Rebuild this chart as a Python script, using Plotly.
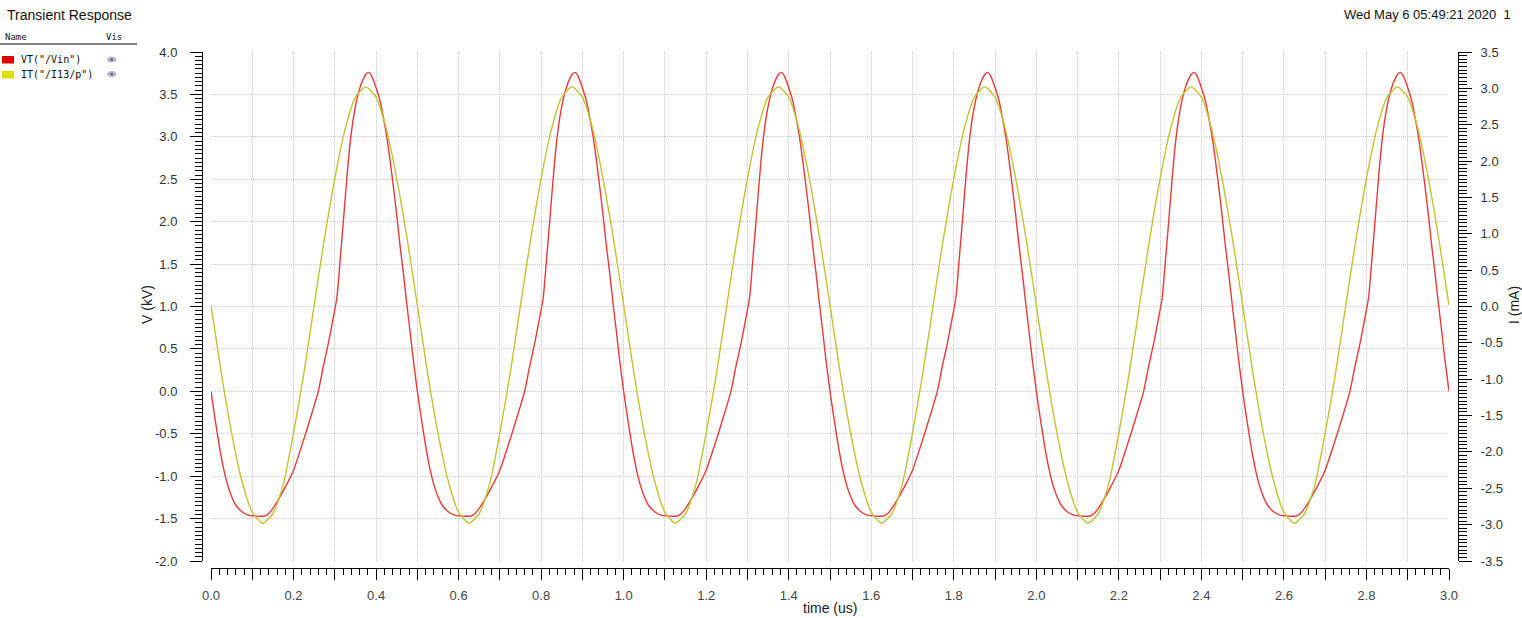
import numpy as np
import plotly.graph_objects as go

# ---------------- data ----------------
period_us = 0.5
n_cycles = 6

# VT("/Vin") in kV, one period (time in us)
red_cycle_t = [0.000, 0.010, 0.020, 0.030, 0.040, 0.050, 0.060, 0.075, 0.090, 0.130,
               0.140, 0.150, 0.163, 0.180, 0.200, 0.220, 0.240, 0.260, 0.272, 0.285,
               0.296, 0.305, 0.313, 0.321, 0.329, 0.337, 0.345, 0.353, 0.361, 0.369,
               0.376, 0.382, 0.388, 0.395, 0.402, 0.410, 0.418, 0.426, 0.434, 0.442,
               0.450, 0.458, 0.466, 0.474, 0.482, 0.490]
red_cycle_v = [0.00, -0.33, -0.64, -0.90, -1.10, -1.24, -1.34, -1.42, -1.46, -1.47,
               -1.44, -1.38, -1.28, -1.13, -0.93, -0.64, -0.33, 0.00, 0.29, 0.58,
               0.86, 1.10, 1.55, 2.02, 2.50, 2.92, 3.22, 3.43, 3.58, 3.68,
               3.74, 3.76, 3.73, 3.65, 3.55, 3.42, 3.22, 3.00, 2.72, 2.41,
               2.08, 1.72, 1.40, 1.05, 0.72, 0.38]

# IT("/I13/p") in mA, one period (time in us)
yel_cycle_t = [0.000, 0.025, 0.050, 0.075, 0.100, 0.125, 0.150, 0.175, 0.200, 0.225,
               0.250, 0.275, 0.300, 0.325, 0.350, 0.375, 0.400, 0.425, 0.450, 0.475]
yel_cycle_i = [0.02, -0.92, -1.74, -2.40, -2.83, -2.98, -2.85, -2.45, -1.74, -0.92,
               0.02, 0.94, 1.76, 2.44, 2.88, 3.02, 2.88, 2.44, 1.76, 0.94]

x_tick_vals = [round(0.1 * i, 1) for i in range(31)]
x_tick_text = [f"{v:.1f}" if i % 2 == 0 else "" for i, v in enumerate(x_tick_vals)]
y_tick_vals = [-2.0, -1.5, -1.0, -0.5, 0.0, 0.5, 1.0, 1.5, 2.0, 2.5, 3.0, 3.5, 4.0]
y_tick_text = [f"{v:.1f}" for v in y_tick_vals]
y2_tick_vals = [-3.5, -3.0, -2.5, -2.0, -1.5, -1.0, -0.5, 0.0, 0.5, 1.0, 1.5, 2.0, 2.5, 3.0, 3.5]
y2_tick_text = [f"{v:.1f}" for v in y2_tick_vals]

series_names = ['VT("/Vin")', 'IT("/I13/p")']
title_text = "Transient Response"
date_text = "Wed May 6 05:49:21 2020  1"

# ---------------- build series over all periods ----------------
def tile(ct, cv):
    t, v = [], []
    for k in range(n_cycles):
        t += [x + k * period_us for x in ct]
        v += list(cv)
    t.append(n_cycles * period_us)
    v.append(cv[0])
    return t, v

t_red, v_red = tile(red_cycle_t, red_cycle_v)
t_yel, i_yel = tile(yel_cycle_t, yel_cycle_i)

W, H = 1522, 618
def px(x):
    return x / W
def py(y):
    return 1 - y / H

RED = "#e43a3c"
YEL = "#c2c232"
FONT = "Liberation Sans, Arial, sans-serif"
MONO = "DejaVu Sans Mono, monospace"

fig = go.Figure()
fig.add_trace(go.Scatter(x=t_yel, y=i_yel, yaxis="y2", mode="lines",
                         line=dict(color=YEL, width=1.4, shape="spline", smoothing=0.6),
                         name=series_names[1], showlegend=False))
fig.add_trace(go.Scatter(x=t_red, y=v_red, mode="lines",
                         line=dict(color=RED, width=1.4, shape="spline", smoothing=0.6),
                         name=series_names[0], showlegend=False))

grid = dict(showgrid=True, gridcolor="#c8c8c8", gridwidth=1, griddash="1px,1px")
tickfont = dict(family=FONT, size=13, color="#333333")

fig.update_layout(
    width=W, height=H,
    margin=dict(l=0, r=0, t=0, b=0, pad=0, autoexpand=False),
    paper_bgcolor="white", plot_bgcolor="white",
    xaxis=dict(domain=[px(211), px(1449)], range=[0, 3], anchor="free", position=py(568),
               automargin=False,
               tickmode="array", tickvals=x_tick_vals, ticktext=x_tick_text,
               ticks="outside", ticklen=11, tickcolor="black", tickwidth=1,
               showline=True, linecolor="black", linewidth=1, zeroline=False,
               minor=dict(tickmode="linear", tick0=0, dtick=0.02, ticks="outside",
                          ticklen=6, tickcolor="black", showgrid=False),
               tickfont=dict(family=FONT, size=13, color="#444444"),
               ticklabelstandoff=4, **grid),
    yaxis=dict(domain=[py(561), py(52)], range=[-2, 4], anchor="free", position=px(202),
               automargin=False,
               tickmode="array", tickvals=y_tick_vals, ticktext=y_tick_text,
               ticks="outside", ticklen=12, tickcolor="black", tickwidth=1,
               showline=True, linecolor="black", linewidth=1, zeroline=False,
               minor=dict(tickmode="linear", tick0=0, dtick=0.05, ticks="outside",
                          ticklen=7, tickcolor="black", showgrid=False),
               tickfont=tickfont, ticklabelstandoff=10, **grid),
    yaxis2=dict(overlaying="y", side="right", anchor="free", position=px(1458),
                automargin=False,
                range=[-3.5, 3.5], tickmode="array", tickvals=y2_tick_vals, ticktext=y2_tick_text,
                ticks="outside", ticklen=13, tickcolor="black", tickwidth=1,
                showline=True, linecolor="black", linewidth=1, zeroline=False,
                showgrid=False,
                minor=dict(tickmode="linear", tick0=0, dtick=0.05, ticks="outside",
                           ticklen=8, tickcolor="black", showgrid=False),
                tickfont=tickfont, ticklabelstandoff=6),
)

ann = [
    dict(x=px(5), y=py(15), text=title_text, xanchor="left", yanchor="middle",
         font=dict(family=FONT, size=14, color="#111111")),
    dict(x=px(1513), y=py(15), text=date_text, xanchor="right", yanchor="middle",
         font=dict(family=FONT, size=13, color="#111111")),
    dict(x=px(3), y=py(37), text="Name", xanchor="left", yanchor="middle",
         font=dict(family=MONO, size=9, color="#111111")),
    dict(x=px(104), y=py(37), text="Vis", xanchor="left", yanchor="middle",
         font=dict(family=MONO, size=9, color="#111111")),
    dict(x=px(19), y=py(60), text=series_names[0], xanchor="left", yanchor="middle",
         font=dict(family=MONO, size=10, color="#111111")),
    dict(x=px(19), y=py(74.5), text=series_names[1], xanchor="left", yanchor="middle",
         font=dict(family=MONO, size=10, color="#111111")),
    dict(x=px(147), y=py(305), text="V (kV)", textangle=-90, xanchor="center", yanchor="middle",
         font=dict(family=FONT, size=14, color="#222222")),
    dict(x=px(1514), y=py(305), text="I (mA)", textangle=-90, xanchor="center", yanchor="middle",
         font=dict(family=FONT, size=14, color="#222222")),
    dict(x=px(830), y=py(608), text="time (us)", xanchor="center", yanchor="middle",
         font=dict(family=FONT, size=14, color="#222222")),
]
for a in ann:
    a.update(xref="paper", yref="paper", showarrow=False)
fig.update_layout(annotations=ann)

shapes = [
    dict(type="line", x0=px(0), x1=px(137), y0=py(44), y1=py(44),
         line=dict(color="black", width=1)),
    dict(type="rect", x0=px(2), x1=px(14), y0=py(63.5), y1=py(56),
         fillcolor="#e00000", line=dict(width=0)),
    dict(type="rect", x0=px(2), x1=px(14), y0=py(78.5), y1=py(71),
         fillcolor="#e0e000", line=dict(width=0)),
]
for ey in (59.5, 74):
    shapes.append(dict(type="circle", x0=px(107.5), x1=px(116), y0=py(ey + 2.5), y1=py(ey - 2.5),
                       fillcolor="#b8bcc8", line=dict(color="#8890a0", width=0.5)))
    shapes.append(dict(type="circle", x0=px(110.5), x1=px(113), y0=py(ey + 1.3), y1=py(ey - 1.3),
                       fillcolor="#505870", line=dict(width=0)))
for s in shapes:
    s.update(xref="paper", yref="paper")
fig.update_layout(shapes=shapes)

fig.write_html("out.html",
               config={"displayModeBar": False},
               post_script="document.body.style.margin='0';document.body.style.overflow='hidden';")
